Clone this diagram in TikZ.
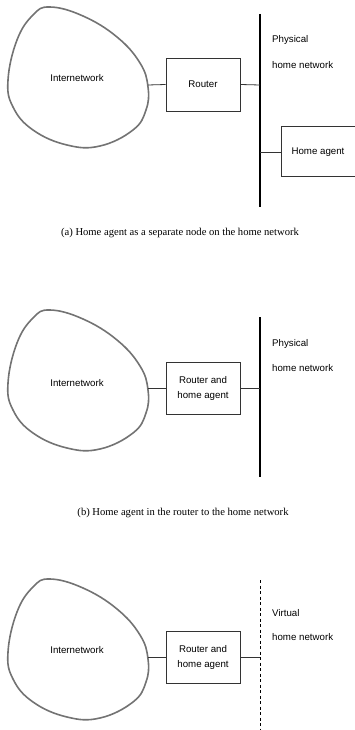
\documentclass[tikz,border=0pt]{standalone}
\usepackage{fontspec}
\setmainfont{Liberation Serif}
\setsansfont{Liberation Sans}
\begin{document}
\begin{tikzpicture}[x=1pt,y=-1pt,
  blob/.style={draw=black!55, line width=1.6pt},
  box/.style={draw=black!80, line width=0.8pt, minimum width=74pt, minimum height=52pt, inner sep=0pt, font=\sffamily\fontsize{9.7}{15}\selectfont, align=center},
  lbl/.style={font=\sffamily\fontsize{9.7}{12}\selectfont, inner sep=0pt},
  link/.style={draw=black!80, line width=0.8pt},
  bus/.style={line width=2.6pt},
  vbus/.style={line width=0.8pt, dash pattern=on 3pt off 2.5pt},
  captxt/.style={font=\rmfamily\fontsize{10.6}{12}\selectfont, inner sep=0pt}]
\useasboundingbox (0,0) rectangle (354,730);
% ---------- (a) ----------
\begin{scope}
\draw[blob] plot[smooth cycle, tension=0.7] coordinates {(50,7) (83,16) (117,37) (140,63) (148,87) (146,110) (133,130) (100,146) (67,145) (33,130) (13,107) (8,80) (17,40) (33,15)};
\node[lbl] (ia) at (77,78) {Internetwork};
\coordinate (ba) at (148,85);
\node[box, minimum height=53pt] (ra) at (203,84.5) {Router};
\coordinate (bat) at (260,14);
\coordinate (bab) at (260,207);
\draw[bus] (bat) -- (bab);
\coordinate (bar) at (260,85);
\draw[link] (ba) -- (ra.west);
\draw[link] (ra.east) -- (bar);
\node[lbl, anchor=west] (pa1) at (272,40) {Physical};
\node[lbl, anchor=west] (pa2) at (272,65) {home network};
\draw[draw=black!80, line width=0.8pt] (355,126) -- (281,126) -- (281,176) -- (355,176);
\node[lbl] (ha) at (318,152) {Home agent};
\coordinate (hab) at (260,152);
\coordinate (hal) at (281,152);
\draw[link] (hab) -- (hal);
\node[captxt] (ca) at (180,233) {(a) Home agent as a separate node on the home network};
\end{scope}
% ---------- (b) ----------
\begin{scope}[yshift=-303pt]
\draw[blob] plot[smooth cycle, tension=0.7] coordinates {(50,7) (83,16) (117,37) (140,63) (148,87) (146,110) (133,130) (100,146) (67,145) (33,130) (13,107) (8,80) (17,40) (33,15)};
\node[lbl] (ib) at (77,80) {Internetwork};
\coordinate (bb) at (148,85);
\node[box] (rb) at (203,85) {Router and\\home agent};
\coordinate (bbt) at (260,14);
\coordinate (bbb) at (260,174);
\draw[bus] (bbt) -- (bbb);
\coordinate (bbr) at (260,85);
\draw[link] (bb) -- (rb.west);
\draw[link] (rb.east) -- (bbr);
\node[lbl, anchor=west] (pb1) at (272,41) {Physical};
\node[lbl, anchor=west] (pb2) at (272,65) {home network};
\node[captxt] (cb) at (183,210) {(b) Home agent in the router to the home network};
\end{scope}
% ---------- (c) ----------
\begin{scope}[yshift=-572pt]
\draw[blob] plot[smooth cycle, tension=0.7] coordinates {(50,7) (83,16) (117,37) (140,63) (148,87) (146,110) (133,130) (100,146) (67,145) (33,130) (13,107) (8,80) (17,40) (33,15)};
\node[lbl] (ic) at (77,78) {Internetwork};
\coordinate (bc) at (148,85);
\node[box] (rc) at (203,85) {Router and\\home agent};
\coordinate (bct) at (260,8);
\coordinate (bcb) at (260,160);
\draw[vbus] (bct) -- (bcb);
\coordinate (bcr) at (260,85);
\draw[link] (bc) -- (rc.west);
\draw[link] (rc.east) -- (bcr);
\node[lbl, anchor=west] (pc1) at (272,41) {Virtual};
\node[lbl, anchor=west] (pc2) at (272,65) {home network};
\end{scope}
\end{tikzpicture}
\end{document}
